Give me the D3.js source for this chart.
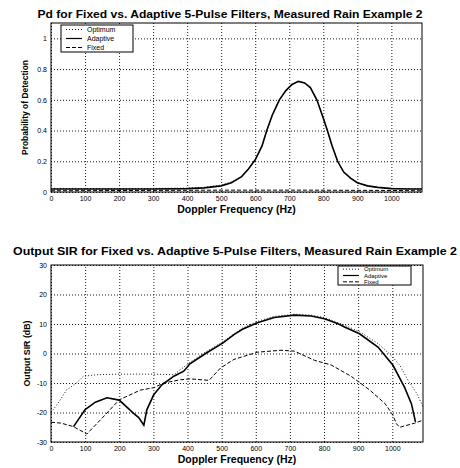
<!DOCTYPE html>
<html>
<head>
<meta charset="utf-8">
<script src="https://d3js.org/d3.v7.min.js"></script>
<style>
  body { margin: 0; background: #fff; }
  svg { display: block; }
</style>
</head>
<body>
<svg id="chart" width="460" height="468"></svg>
<script>
// ---- data ----
var freqTicks = [0, 100, 200, 300, 400, 500, 600, 700, 800, 900, 1000];
var pdTicks = [0, 0.2, 0.4, 0.6, 0.8, 1];
var pdTickLabels = ["0", "0.2", "0.4", "0.6", "0.8", "1"];
var sirTicks = [-30, -20, -10, 0, 10, 20, 30];
var seriesNames = ["Optimum", "Adaptive", "Fixed"];

// top panel: probability of detection
var pdFreq = [0, 100, 200, 300, 400, 450, 500, 530, 560, 580, 600, 620, 634, 650, 671, 690, 708, 727, 745, 762, 781, 797, 812, 826, 842, 860, 880, 900, 930, 960, 1000, 1050, 1090];
var pdAdaptive = [0.02, 0.02, 0.02, 0.02, 0.022, 0.027, 0.04, 0.06, 0.1, 0.15, 0.21, 0.3, 0.4, 0.5, 0.6, 0.66, 0.7, 0.72, 0.71, 0.68, 0.6, 0.5, 0.4, 0.3, 0.2, 0.13, 0.09, 0.06, 0.04, 0.03, 0.022, 0.02, 0.02];
var pdOptimum = [0.022, 0.022, 0.022, 0.023, 0.025, 0.03, 0.045, 0.065, 0.1, 0.15, 0.21, 0.3, 0.4, 0.5, 0.6, 0.66, 0.7, 0.72, 0.71, 0.68, 0.6, 0.5, 0.4, 0.3, 0.2, 0.13, 0.09, 0.06, 0.04, 0.03, 0.024, 0.022, 0.022];
var pdFixedFreq = [0, 250, 500, 750, 1000, 1090];
var pdFixed = [0.008, 0.01, 0.012, 0.012, 0.01, 0.008];

// bottom panel: output SIR (dB)
var sirOptFreq = [0, 20, 46, 75, 95, 134, 194, 250, 300, 360, 407, 453, 504, 561, 605, 654, 713, 762, 801, 860, 904, 958, 1000, 1022, 1046, 1071, 1090];
var sirOptimum = [-20, -17, -12.3, -10, -7.7, -7.2, -7, -7, -7, -7.2, -3, 0.5, 4, 8.6, 10.9, 12.6, 13.3, 13, 12.2, 9.6, 7.4, 3.4, -1, -4, -9, -13.4, -18];
var sirAdFreq = [66, 100, 130, 164, 200, 242, 257, 272, 281, 301, 325, 360, 389, 407, 453, 504, 536, 561, 605, 654, 713, 762, 801, 841, 860, 904, 958, 1002, 1036, 1056, 1068];
var sirAdaptive = [-24.8, -19, -16.5, -15, -15.8, -20.3, -21.7, -24.3, -19, -14, -10.6, -7.7, -6, -3.5, 0, 3.6, 6.4, 8.2, 10.4, 12.2, 13, 12.7, 11.8, 10.1, 9, 6.7, 2.2, -4, -11.5, -17, -23.2];
var sirFixFreq = [0, 30, 66, 105, 149, 200, 262, 301, 330, 379, 407, 463, 497, 536, 605, 674, 713, 772, 821, 879, 933, 978, 997, 1002, 1012, 1022, 1066, 1090];
var sirFixed = [-23.3, -23.6, -24.8, -27.3, -22, -15.7, -12.4, -11.6, -10, -8.9, -8.6, -9.1, -4.9, -2, 0.45, 1.1, 0.8, -2.3, -3.9, -7.7, -12.3, -16.9, -20, -21, -23.8, -25, -23.6, -22.6];

function zip(xs, ys) { return xs.map(function(x, i) { return [x, ys[i]]; }); }

var svg = d3.select("#chart");
var font = "'Liberation Sans', Arial, sans-serif";

var styles = {
  Optimum: { w: 0.9, dash: "1,2" },
  Adaptive: { w: 1.6, dash: null },
  Fixed: { w: 1, dash: "4,2" }
};

function panel(opts) {
  var g = svg.append("g");
  var x = d3.scaleLinear().domain([0, 1090]).range([opts.left, opts.right]);
  var y = d3.scaleLinear().domain(opts.yDomain).range([opts.bottom, opts.top]);

  // grid
  g.append("g")
    .attr("transform", "translate(0," + opts.bottom + ")")
    .call(d3.axisBottom(x).tickValues(freqTicks).tickSize(-(opts.bottom - opts.top)).tickFormat(""))
    .call(function(a) { a.select(".domain").remove(); })
    .selectAll("line").attr("stroke", "#000").attr("stroke-width", 0.9).attr("stroke-dasharray", "1,2");
  g.append("g")
    .attr("transform", "translate(" + opts.left + ",0)")
    .call(d3.axisLeft(y).tickValues(opts.yTicks).tickSize(-(opts.right - opts.left)).tickFormat(""))
    .call(function(a) { a.select(".domain").remove(); })
    .selectAll("line").attr("stroke", "#000").attr("stroke-width", 0.9).attr("stroke-dasharray", "1,2");

  // tick labels
  var xa = g.append("g")
    .attr("transform", "translate(0," + opts.bottom + ")")
    .call(d3.axisBottom(x).tickValues(freqTicks).tickSize(0).tickPadding(4).tickFormat(d3.format("d")));
  xa.select(".domain").remove();
  xa.selectAll("text").style("font-family", font).style("font-size", "7px").attr("fill", "#000");

  var ya = g.append("g")
    .attr("transform", "translate(" + opts.left + ",0)")
    .call(d3.axisLeft(y).tickValues(opts.yTicks).tickSize(0).tickPadding(4)
      .tickFormat(function(d, i) { return opts.yLabels[i]; }));
  ya.select(".domain").remove();
  ya.selectAll("text").style("font-family", font).style("font-size", "7px").attr("fill", "#000");

  // series
  var line = d3.line().x(function(d) { return x(d[0]); }).y(function(d) { return y(d[1]); });
  opts.series.forEach(function(s) {
    var st = styles[s.name];
    g.append("path")
      .datum(s.data)
      .attr("d", line)
      .attr("fill", "none")
      .attr("stroke", "#000")
      .attr("stroke-width", st.w)
      .attr("stroke-dasharray", st.dash);
  });

  // frame
  g.append("rect")
    .attr("x", opts.left).attr("y", opts.top)
    .attr("width", opts.right - opts.left).attr("height", opts.bottom - opts.top)
    .attr("fill", "none").attr("stroke", "#000").attr("stroke-width", 1);

  // title & labels
  g.append("text")
    .attr("x", opts.titleX).attr("y", opts.titleY)
    .attr("text-anchor", "middle")
    .attr("textLength", opts.titleLen).attr("lengthAdjust", "spacingAndGlyphs")
    .style("font-family", font).style("font-weight", "bold").style("font-size", "10.5px")
    .text(opts.title);
  g.append("text")
    .attr("x", (opts.left + opts.right) / 2).attr("y", opts.bottom + 21)
    .attr("text-anchor", "middle")
    .style("font-family", font).style("font-weight", "bold").style("font-size", "10.5px")
    .text("Doppler Frequency (Hz)");
  g.append("text")
    .attr("transform", "translate(" + opts.yLabelX + "," + ((opts.top + opts.bottom) / 2) + ") rotate(-90)")
    .attr("text-anchor", "middle")
    .attr("textLength", opts.yLabelLen).attr("lengthAdjust", "spacingAndGlyphs")
    .style("font-family", font).style("font-weight", "bold").style("font-size", "9.5px")
    .text(opts.yLabel);

  // legend
  var lg = g.append("g").attr("transform", "translate(" + opts.legend[0] + "," + opts.legend[1] + ")");
  lg.append("rect").attr("width", opts.legend[2]).attr("height", opts.legend[3])
    .attr("fill", "#fff").attr("stroke", "#000").attr("stroke-width", 1);
  var rowH = opts.legend[3] / 3;
  seriesNames.forEach(function(name, i) {
    var cy = rowH * (i + 0.5);
    var st = styles[name];
    lg.append("line").attr("x1", 5).attr("x2", 21).attr("y1", cy).attr("y2", cy)
      .attr("stroke", "#000").attr("stroke-width", Math.min(st.w, 1.2)).attr("stroke-dasharray", st.dash);
    lg.append("text").attr("x", 26).attr("y", cy + 2.1)
      .style("font-family", font).style("font-size", opts.legendFont)
      .text(name);
  });
}

panel({
  left: 51, right: 422, top: 23, bottom: 192,
  yDomain: [0, 1.1], yTicks: pdTicks, yLabels: pdTickLabels,
  title: "Pd for Fixed vs. Adaptive 5-Pulse Filters, Measured Rain Example 2",
  titleX: 230, titleY: 18, titleLen: 385,
  yLabel: "Probability of Detection", yLabelX: 28, yLabelLen: 95,
  legend: [61, 25, 72, 27], legendFont: "7px",
  series: [
    { name: "Fixed", data: zip(pdFixedFreq, pdFixed) },
    { name: "Optimum", data: zip(pdFreq, pdOptimum) },
    { name: "Adaptive", data: zip(pdFreq, pdAdaptive) }
  ]
});

panel({
  left: 51, right: 423, top: 265, bottom: 442,
  yDomain: [-30, 30], yTicks: sirTicks, yLabels: sirTicks.map(String),
  title: "Output SIR for Fixed vs. Adaptive 5-Pulse Filters, Measured Rain Example 2",
  titleX: 235, titleY: 255, titleLen: 444,
  yLabel: "Output SIR (dB)", yLabelX: 30, yLabelLen: 66,
  legend: [338, 266, 73, 19], legendFont: "6px",
  series: [
    { name: "Optimum", data: zip(sirOptFreq, sirOptimum) },
    { name: "Fixed", data: zip(sirFixFreq, sirFixed) },
    { name: "Adaptive", data: zip(sirAdFreq, sirAdaptive) }
  ]
});
</script>
</body>
</html>
